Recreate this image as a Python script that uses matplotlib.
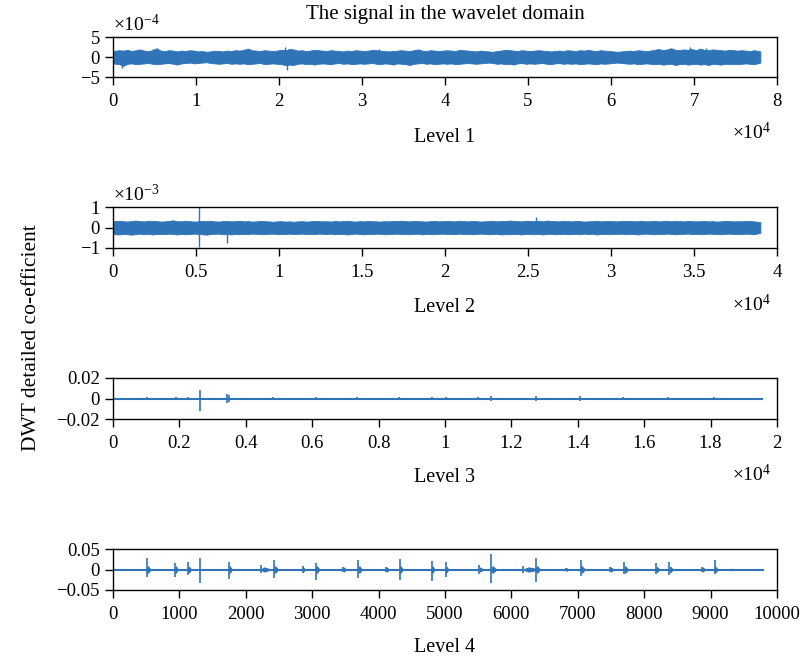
import numpy as np
import matplotlib
matplotlib.use("Agg")
import matplotlib.pyplot as plt
from matplotlib.ticker import FuncFormatter, MultipleLocator

plt.rcParams['font.family'] = ['Liberation Serif', 'DejaVu Serif']
plt.rcParams['mathtext.fontset'] = 'custom'
plt.rcParams['mathtext.rm'] = 'Liberation Serif'
plt.rcParams['mathtext.it'] = 'Liberation Serif:italic'

BLUE = '#2f74b7'

# ---------------- data ----------------
# Level 1: envelope of detail coefficients, one value per 500 samples, units 1e-5
L1_BIN = 500
L1_UPPER = [15,17,16,18,15,17,19,16,15,17, 22,16,15,17,16,14,16,15,17,16,
            14,15,13,14,16,15,14,16,15,17, 16,18,21,17,16,15,17,16,15,16,
            18,17,20,19,16,17,15,16,18,17, 16,15,17,16,15,14,16,15,17,16,
            15,16,18,17,16,15,14,15,16,17, 16,15,17,19,16,15,17,16,15,16,
            17,16,15,18,17,16,15,14,16,15, 14,13,15,16,18,17,16,15,17,16,
            15,16,17,16,15,14,15,16,15,17, 16,15,17,16,18,16,15,17,16,15,
            14,13,14,15,16,15,17,16,15,16, 18,20,17,19,22,18,17,19,18,20,
            17,21,18,17,19,18,17,16,18,17, 16,17,16,15,17,14]
L1_LOWER = [-16,-18,-22,-17,-16,-18,-17,-16,-15,-17, -18,-17,-16,-15,-17,-19,-16,-15,-14,-16,
            -15,-14,-13,-15,-16,-17,-16,-15,-17,-16, -17,-16,-18,-17,-16,-15,-18,-17,-16,-17,
            -18,-20,-19,-20,-17,-16,-18,-17,-19,-17, -16,-17,-18,-16,-15,-17,-16,-18,-17,-16,
            -17,-16,-15,-17,-18,-16,-17,-19,-16,-17, -18,-20,-17,-16,-15,-17,-16,-18,-17,-16,
            -17,-16,-18,-17,-16,-15,-16,-17,-16,-15, -14,-15,-17,-16,-18,-17,-19,-16,-15,-17,
            -16,-17,-16,-15,-17,-18,-16,-15,-17,-16, -17,-16,-18,-17,-16,-17,-18,-16,-17,-16,
            -15,-14,-15,-16,-17,-16,-18,-17,-16,-17, -18,-17,-19,-18,-17,-20,-18,-17,-19,-18,
            -17,-19,-18,-20,-17,-18,-19,-17,-18,-17, -18,-17,-16,-17,-18,-14]
L1_SPIKE_X = [1050, 4800, 20700, 20950, 32000, 69500, 71500]
L1_SPIKE_Y = [-2.7e-4, 2.1e-4, 2.4e-4, -3.3e-4, 2.0e-4, 2.4e-4, 2.2e-4]

# Level 2: one value per 250 samples, units 1e-5
L2_BIN = 250
L2_UPPER = [30,33,31,29,32,34,31,30,33,32, 31,29,30,32,35,31,30,33,31,29,
            30,32,31,33,30,29,31,32,30,31, 33,30,31,29,30,32,31,30,28,30,
            31,29,30,28,30,31,29,30,32,31, 30,31,29,32,30,31,33,30,29,31,
            30,32,31,30,29,31,30,32,31,33, 31,30,32,31,30,29,31,32,30,31,
            32,31,30,33,31,30,32,31,29,30, 31,33,30,32,31,34,32,31,30,33,
            32,31,33,30,34,32,31,30,32,31, 30,32,31,29,30,31,33,30,31,32,
            31,30,32,31,33,30,31,32,30,31, 32,30,31,33,30,32,31,30,32,31,
            30,31,32,30,31,29,30,32,31,30, 31,30,32,31,30,26]
L2_LOWER = [-32,-34,-31,-33,-35,-32,-30,-33,-31,-34, -32,-31,-33,-30,-32,-34,-31,-33,-32,-30,
            -31,-33,-35,-32,-31,-30,-33,-32,-34,-31, -33,-31,-32,-30,-31,-33,-32,-31,-30,-32,
            -31,-33,-30,-32,-31,-30,-32,-31,-33,-30, -31,-32,-30,-33,-31,-32,-34,-31,-30,-32,
            -33,-31,-32,-30,-31,-33,-32,-31,-30,-32, -31,-33,-32,-30,-34,-31,-32,-33,-31,-30,
            -32,-31,-33,-30,-32,-31,-33,-32,-30,-31, -33,-32,-31,-34,-32,-33,-31,-32,-34,-31,
            -32,-33,-31,-34,-32,-31,-33,-32,-31,-33, -32,-31,-33,-30,-32,-31,-34,-32,-31,-33,
            -31,-32,-30,-33,-31,-32,-34,-31,-30,-32, -33,-31,-32,-30,-31,-33,-32,-31,-30,-32,
            -31,-33,-32,-30,-31,-32,-33,-31,-30,-32, -31,-32,-30,-31,-33,-26]
L2_SPIKE_X = [5180, 5180, 6870, 25500]
L2_SPIKE_Y = [1.0e-3, -0.95e-3, -0.76e-3, 0.5e-3]

# Level 3: flat line with small bursts, units 1e-3
L3_END = 19550
L3_EV_X = [1020, 1900, 2260, 2620, 3430, 3480, 4820, 6110, 7350, 8620, 9610,
           10030, 11000, 11390, 12740, 14070, 15360, 16720, 18100]
L3_EV_HI = [1.5, 1.0, 1.5, 8.0, 4.0, 3.0, 1.5, 1.5, 1.5, 1.5, 1.0,
            1.0, 1.0, 2.0, 2.0, 2.0, 1.5, 1.0, 1.5]
L3_EV_LO = [-1.5, -1.0, -1.5, -12.0, -4.0, -3.0, -1.5, -1.5, -1.5, -1.5, -1.0,
            -1.0, -1.0, -2.0, -2.0, -2.0, -1.5, -1.0, -1.5]

# Level 4: flat line with bursts, units 1e-3
L4_END = 9785
L4_EV_X = [507, 934, 1134, 1310, 1747, 2229, 2425, 2857, 3057, 3464, 3695, 4107,
           4315, 4800, 5010, 5512, 5693, 6180, 6370, 6818, 7043, 7485, 7696,
           8178, 8378, 8866, 9066, 9307]
L4_EV_HI = [28, 16, 19, 28, 19, 10, 23, 8, 16, 6, 23, 7,
            25, 20, 19, 10, 37, 8, 29, 4, 23, 7, 19,
            15, 19, 7, 24, 2]
L4_EV_LO = [-19, -18, -14, -32, -24, -8, -20, -8, -26, -6, -20, -7,
            -25, -28, -18, -10, -32, -8, -31, -4, -16, -7, -12,
            -12, -14, -7, -10, -2]
L4_BLOB_AMP = [8, 8, 7, 0, 8, 5, 8, 5, 8, 5, 8, 5,
               8, 8, 7, 5, 8, 5, 8, 3, 8, 5, 8,
               6, 7, 5, 6, 2]
L4_BLOB_W = [60, 40, 40, 0, 40, 150, 60, 30, 50, 40, 50, 50,
             50, 40, 40, 60, 80, 250, 60, 40, 60, 50, 60,
             50, 50, 50, 40, 20]

LEVEL_LABELS = ['Level 1', 'Level 2', 'Level 3', 'Level 4']
XLIMS = [80000, 40000, 20000, 10000]
YLIMS = [5e-4, 1e-3, 0.02, 0.05]
XSTEPS = [10000, 5000, 2000, 1000]
XSCALE = [1e4, 1e4, 1e4, 1]
YSCALE = [1e-4, 1e-3, 1, 1]

# ---------------- figure ----------------
W, H = 802, 663
fig = plt.figure(figsize=(W / 100, H / 100), dpi=100)

tops = [37, 207, 378, 549]
bots = [77, 248, 419, 590]
left, right = 113, 777
FS = 13.5


def fmt(scale):
    def f(v, p):
        s = '%g' % round(v / scale, 6)
        return s.replace('-', '\u2212')
    return FuncFormatter(f)


axes = []
for i in range(4):
    ax = fig.add_axes([left / W, 1 - bots[i] / H, (right - left) / W, (bots[i] - tops[i]) / H])
    axes.append(ax)
    ax.set_xlim(0, XLIMS[i])
    ax.set_ylim(-YLIMS[i], YLIMS[i])
    ax.xaxis.set_major_locator(MultipleLocator(XSTEPS[i]))
    ax.yaxis.set_major_locator(MultipleLocator(YLIMS[i]))
    ax.xaxis.set_major_formatter(fmt(XSCALE[i]))
    ax.yaxis.set_major_formatter(fmt(YSCALE[i]))
    ax.tick_params(direction='out', length=5.5, width=1.0, labelsize=FS, pad=4)
    ax.tick_params(axis='x', pad=6)
    ax.tick_params(top=False, right=False)
    for s in ax.spines.values():
        s.set_linewidth(1.0)
    fig.text((left + right) / 2 / W, 1 - [137, 308, 478, 648][i] / H, LEVEL_LABELS[i],
             ha='center', va='center', fontsize=14.5)

# Level 1
ax = axes[0]
x1 = np.arange(len(L1_UPPER)) * L1_BIN + L1_BIN / 2
x1[0] = 0
x1[-1] = len(L1_UPPER) * L1_BIN
u1 = np.array(L1_UPPER) * 1e-5
l1 = np.array(L1_LOWER) * 1e-5
ax.fill_between(x1, l1, u1, color=BLUE, lw=0.6, edgecolor=BLUE)
ax.vlines(L1_SPIKE_X, 0, L1_SPIKE_Y, color=BLUE, lw=1.0)

# Level 2
ax = axes[1]
x2 = np.arange(len(L2_UPPER)) * L2_BIN + L2_BIN / 2
x2[0] = 0
x2[-1] = len(L2_UPPER) * L2_BIN
u2 = np.array(L2_UPPER) * 1e-5
l2 = np.array(L2_LOWER) * 1e-5
ax.fill_between(x2, l2, u2, color=BLUE, lw=0.6, edgecolor=BLUE)
ax.vlines(L2_SPIKE_X, 0, L2_SPIKE_Y, color=BLUE, lw=1.0)

# Level 3
ax = axes[2]
ax.plot([0, L3_END], [0, 0], color=BLUE, lw=1.5)
ax.vlines(L3_EV_X, np.array(L3_EV_LO) * 1e-3, np.array(L3_EV_HI) * 1e-3, color=BLUE, lw=1.2)

# Level 4
ax = axes[3]
ax.plot([0, L4_END], [0, 0], color=BLUE, lw=1.5)
ax.vlines(L4_EV_X, np.array(L4_EV_LO) * 1e-3, np.array(L4_EV_HI) * 1e-3, color=BLUE, lw=1.2)
for xe, a, w in zip(L4_EV_X, L4_BLOB_AMP, L4_BLOB_W):
    if a > 0 and w > 0:
        xs = [xe, xe + w * 0.3, xe + w]
        ax.fill_between(xs, [0, -a * 1e-3, 0], [0, a * 1e-3, 0], color=BLUE, lw=0.8)

# texts
fig.text((left + right) / 2 / W, 1 - 15 / H, 'The signal in the wavelet domain',
         ha='center', va='center', fontsize=15)
fig.text(113 / W, 1 - 24 / H, r'$\times10^{-4}$', ha='left', va='center', fontsize=14)
fig.text(113 / W, 1 - 194 / H, r'$\times10^{-3}$', ha='left', va='center', fontsize=14)
for yc in [132, 305, 475]:
    fig.text(771 / W, 1 - yc / H, r'$\times10^{4}$', ha='right', va='center', fontsize=14)
fig.text(32 / W, 1 - 338 / H, 'DWT detailed co-efficient', rotation=90,
         ha='center', va='center', fontsize=15.5)

fig.savefig('out.png', dpi=100)
